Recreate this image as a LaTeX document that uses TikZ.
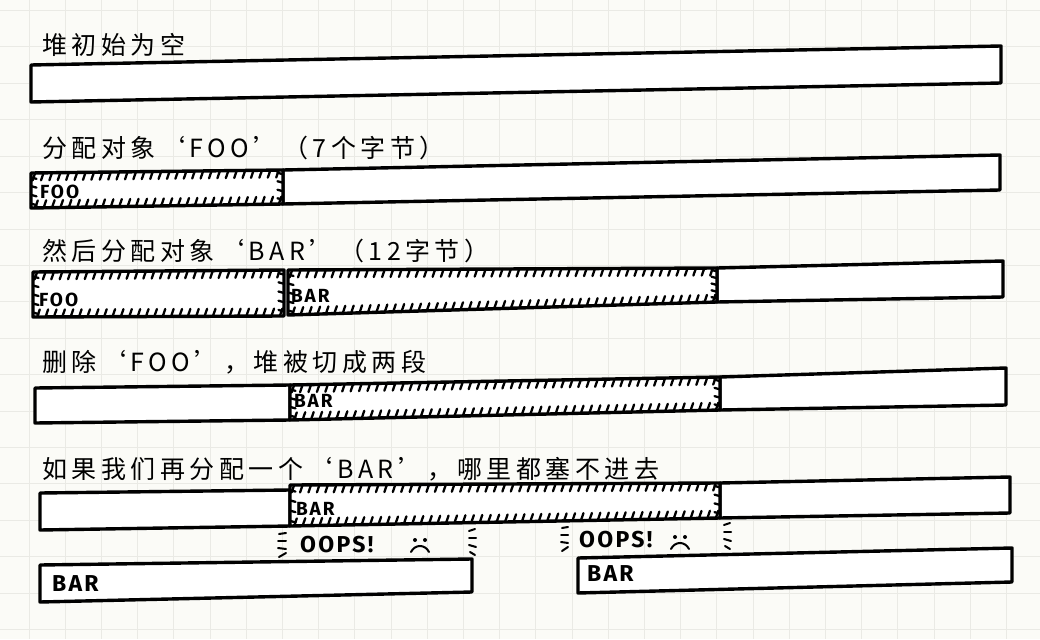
\documentclass[tikz,border=0pt]{standalone}
\usepackage{fontspec}
\usetikzlibrary{calc}
\newfontfamily\cjk{Noto Sans CJK SC}[LetterSpace=18]
\newfontfamily\hand{Fira Sans}[LetterSpace=10]
\definecolor{paper}{HTML}{FBFBF7}
\definecolor{gridc}{HTML}{EAEAE5}
\tikzset{
  boxline/.style={line width=3.4pt, line join=round, line cap=round, draw=black, fill=white},
  tick/.style={line width=2.3pt, line cap=round, draw=black},
  title/.style={anchor=west, inner sep=0pt, font=\cjk\fontsize{25}{25}\selectfont},
  lbl/.style={anchor=west, inner sep=0pt, font=\hand\bfseries\fontsize{19}{19}\selectfont},
  bigl/.style={anchor=west, inner sep=0pt, font=\hand\bfseries\fontsize{23}{23}\selectfont},
  emphline/.style={line width=2pt, line cap=round, draw=black}
}
\newcommand\plainquad[4]{\draw[boxline] (#1) -- (#2) -- (#3) -- (#4) -- cycle;}
\newcommand\hatchquad[6]{%
  \draw[boxline] (#1) -- (#2) -- (#3) -- (#4) -- cycle;
  \foreach \i in {1,...,#5}{%
    \pgfmathsetmacro\tpos{(\i-0.5)/#5}
    \draw[tick] ($(#1)!\tpos!(#2)$) -- ++(-2.6,7.5);
    \draw[tick] ($(#4)!\tpos!(#3)$) -- ++(2.6,-7.5);}
  \foreach \i in {1,...,#6}{%
    \pgfmathsetmacro\tpos{(\i-0.5)/#6}
    \draw[tick] ($(#1)!\tpos!(#4)$) -- ++(5.5,1.5);
    \draw[tick] ($(#2)!\tpos!(#3)$) -- ++(-5.5,-1.5);}
}
\newcommand\sadface[1]{%
  \fill ($(#1)+(-5,-5)$) circle (2);
  \fill ($(#1)+(5,-5)$) circle (2);
  \draw[emphline] ($(#1)+(-9,7)$) .. controls ($(#1)+(-5,-1)$) and ($(#1)+(5,-1)$) .. ($(#1)+(9,7)$);
}
\begin{document}
\begin{tikzpicture}[x=1pt,y=-1pt]
\useasboundingbox (0,0) rectangle (1040,639);
\fill[paper] (0,0) rectangle (1040,639);
\foreach \k in {0,...,28}{\draw[gridc, line width=0.6pt] ({28.8+36.2*\k},0) -- ({28.8+36.2*\k},639);}
\foreach \k in {0,...,17}{\draw[gridc, line width=0.6pt] (0,{10.4+36.4*\k}) -- (1040,{10.4+36.4*\k});}

% titles
\node[title] (t1) at (42,45) {堆初始为空};
\node[title] (t2) at (42,148) {分配对象‘FOO’（7个字节）};
\node[title] (t3) at (42,251) {然后分配对象‘BAR’（12字节）};
\node[title] (t4) at (42,362) {删除‘FOO’，堆被切成两段};
\node[title] (t5) at (42,469) {如果我们再分配一个‘BAR’，哪里都塞不进去};

% row 1
\coordinate (a1) at (31,65); \coordinate (a2) at (1001,46);
\coordinate (a3) at (1001,83); \coordinate (a4) at (31,102);
\plainquad{a1}{a2}{a3}{a4}

% row 2
\coordinate (b1) at (31,173); \coordinate (b2) at (283,170);
\coordinate (b3) at (283,204); \coordinate (b4) at (31,208);
\coordinate (b5) at (1000,155); \coordinate (b6) at (1000,190);
\plainquad{b2}{b5}{b6}{b3}
\hatchquad{b1}{b2}{b3}{b4}{30}{4}
\node[lbl] (foo1) at (40,192) {FOO};

% row 3
\coordinate (c1) at (33,272); \coordinate (c2) at (284,270);
\coordinate (c3) at (284,316); \coordinate (c4) at (33,317);
\coordinate (c5) at (288,270); \coordinate (c6) at (717,268);
\coordinate (c7) at (717,302); \coordinate (c8) at (288,315);
\coordinate (c9) at (1003,261); \coordinate (c10) at (1003,297);
\plainquad{c6}{c9}{c10}{c7}
\hatchquad{c1}{c2}{c3}{c4}{30}{5}
\hatchquad{c5}{c6}{c7}{c8}{51}{5}
\node[lbl] (foo2) at (39,300) {FOO};
\node[lbl] (bar1) at (291,296) {BAR};

% row 4
\coordinate (d1) at (35,388); \coordinate (d2) at (290,385);
\coordinate (d3) at (290,420); \coordinate (d4) at (35,423);
\coordinate (d5) at (720,377); \coordinate (d6) at (720,410);
\coordinate (d7) at (1006,368); \coordinate (d8) at (1006,405);
\plainquad{d1}{d2}{d3}{d4}
\plainquad{d5}{d7}{d8}{d6}
\hatchquad{d2}{d5}{d6}{d3}{51}{4}
\node[lbl] (bar2) at (294,401) {BAR};

% row 5
\coordinate (e1) at (40,493); \coordinate (e2) at (290,490);
\coordinate (e3) at (290,526); \coordinate (e4) at (40,530);
\coordinate (e5) at (290,485);
\coordinate (e6) at (720,483); \coordinate (e7) at (720,518);
\coordinate (e8) at (1010,477); \coordinate (e9) at (1010,513);
\plainquad{e1}{e2}{e3}{e4}
\plainquad{e6}{e8}{e9}{e7}
\hatchquad{e5}{e6}{e7}{e3}{51}{4}
\node[lbl] (bar3) at (296,509) {BAR};

% oops left
\node[bigl] (oops1) at (300,545) {OOPS!};
\coordinate (f1) at (420,545);
\sadface{f1}
\draw[emphline] (279,534) -- (286,533);
\draw[emphline] (278,541) -- (286,541);
\draw[emphline] (278,548) -- (286,549);
\draw[emphline] (279,557) -- (286,553);
\draw[emphline] (469,531) -- (475,529);
\draw[emphline] (469,538) -- (476,538);
\draw[emphline] (469,545) -- (476,547);
\draw[emphline] (470,552) -- (475,555);

% bottom left box
\coordinate (g1) at (40,565); \coordinate (g2) at (472,559);
\coordinate (g3) at (472,592); \coordinate (g4) at (40,602);
\plainquad{g1}{g2}{g3}{g4}
\node[bigl] (bar4) at (52,584) {BAR};

% oops right
\node[bigl] (oops2) at (579,540) {OOPS!};
\coordinate (f2) at (680,542);
\sadface{f2}
\draw[emphline] (562,528) -- (568,527);
\draw[emphline] (561,535) -- (568,535);
\draw[emphline] (561,542) -- (568,543);
\draw[emphline] (562,551) -- (568,547);
\draw[emphline] (724,525) -- (730,523);
\draw[emphline] (724,532) -- (731,532);
\draw[emphline] (724,539) -- (731,541);
\draw[emphline] (725,546) -- (730,549);

% bottom right box
\coordinate (h1) at (578,558); \coordinate (h2) at (1012,548);
\coordinate (h3) at (1012,582); \coordinate (h4) at (578,593);
\plainquad{h1}{h2}{h3}{h4}
\node[bigl] (bar5) at (587,574) {BAR};
\end{tikzpicture}
\end{document}
